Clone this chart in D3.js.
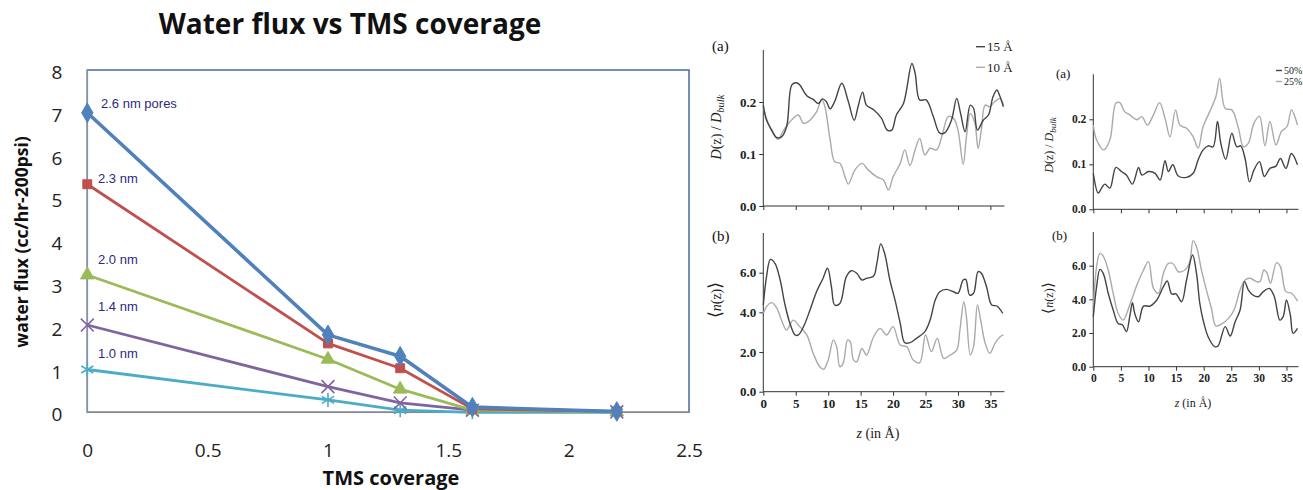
<!DOCTYPE html>
<html><head><meta charset="utf-8">
<script src="https://cdn.jsdelivr.net/npm/d3@7"></script>
<style>html,body{margin:0;padding:0;background:#fff;}svg{display:block;}</style>
</head><body>
<svg id="c" width="1303" height="490"></svg>
<script>
// ---------- Left chart data ----------
const tmsCoverage = [0, 1, 1.3, 1.6, 2.2];
const pore26 = [7.0, 1.81, 1.31, 0.12, 0.02];
const pore23 = [5.33, 1.61, 1.03, 0.08, 0.02];
const pore20 = [3.21, 1.24, 0.54, 0.05, 0.01];
const pore14 = [2.04, 0.60, 0.22, 0.05, 0.01];
const pore10 = [1.0, 0.29, 0.05, 0.0, 0.0];
const poreLabels = ["2.6 nm pores", "2.3 nm", "2.0 nm", "1.4 nm", "1.0 nm"];
const fluxTicks = [0,1,2,3,4,5,6,7,8];
const coverageTicks = [0,0.5,1,1.5,2,2.5];

// ---------- Right panels data (z in Å, value) ----------
const a1_15A = [[0,0.194],[0.5,0.165],[1.3,0.146],[2,0.132],[2.8,0.133],[3.6,0.153],[4.4,0.233],[5.1,0.237],[5.6,0.233],[6.7,0.212],[7.7,0.205],[8.5,0.197],[9.1,0.206],[9.7,0.201],[10.3,0.187],[11,0.201],[12.1,0.236],[13.1,0.201],[14,0.165],[14.6,0.191],[15.3,0.219],[15.9,0.194],[17,0.185],[18.2,0.169],[19.1,0.146],[19.8,0.146],[20.5,0.175],[21.6,0.197],[22.9,0.274],[23.4,0.255],[24.1,0.204],[25.1,0.204],[26.2,0.172],[27.2,0.140],[28,0.141],[29,0.165],[29.8,0.207],[30.4,0.178],[31.1,0.143],[31.9,0.194],[32.4,0.188],[33,0.146],[33.9,0.165],[34.7,0.175],[35.4,0.210],[36,0.223],[36.4,0.213],[37,0.191]];
const a1_10A = [[0,0.19],[0.5,0.168],[1.5,0.140],[2.3,0.128],[3,0.143],[4.1,0.162],[5.4,0.175],[6.2,0.159],[7.2,0.165],[8.2,0.181],[9,0.205],[9.5,0.191],[10.3,0.127],[11,0.085],[11.8,0.082],[12.6,0.056],[13.1,0.042],[14.1,0.069],[15.2,0.082],[16.2,0.069],[17.5,0.056],[18.5,0.050],[19.3,0.031],[20,0.056],[21.1,0.082],[21.8,0.108],[22.6,0.078],[23.4,0.108],[24.1,0.130],[24.9,0.098],[25.7,0.111],[26.7,0.108],[27.5,0.133],[28.5,0.172],[29.3,0.169],[30,0.146],[30.8,0.080],[31.3,0.133],[31.9,0.178],[32.6,0.159],[33.1,0.111],[33.6,0.146],[34.2,0.194],[34.9,0.191],[35.7,0.201],[36.5,0.207],[37,0.194]];
const b1_15A = [[0,4.37],[0.5,5.8],[1.1,6.67],[1.8,6.47],[2.6,5.63],[3.3,4.45],[4.1,3.45],[4.9,2.86],[5.4,2.86],[6.2,3.28],[7.2,4.12],[8.2,5.04],[9.2,5.71],[9.9,6.22],[10.5,5.29],[11,4.37],[11.8,4.45],[12.8,5.8],[13.6,6.1],[14.4,5.97],[15.2,5.63],[15.9,5.71],[17,5.83],[17.5,6.47],[18.1,7.45],[18.7,6.97],[19.5,5.63],[20.3,4.62],[21.1,3.45],[21.8,2.47],[22.6,2.47],[23.6,2.69],[24.9,3.03],[25.7,3.61],[26.5,4.62],[27.2,5.04],[28.2,5.16],[29.3,5.04],[30,4.96],[30.8,5.63],[31.2,5.66],[31.8,4.87],[32.4,4.96],[33.1,6.05],[33.6,5.97],[34.4,5.29],[35.2,4.37],[36,4.32],[36.9,3.95]];
const b1_10A = [[0,3.95],[0.5,4.29],[1.3,4.49],[2.1,4.2],[2.8,3.61],[3.6,3.11],[4.6,3.61],[5.6,3.28],[6.7,2.86],[7.7,1.93],[8.7,1.26],[9.3,1.13],[10,1.6],[10.8,2.61],[11.3,2.27],[11.8,1.26],[12.3,1.43],[13,2.61],[13.4,2.52],[13.9,1.6],[14.4,1.51],[15.2,2.18],[15.9,1.85],[17,2.77],[18,3.19],[19,2.86],[20,3.28],[21.1,2.35],[22.1,2.27],[23.1,1.6],[24.1,1.46],[25,2.86],[25.9,2.02],[26.8,2.69],[27.8,1.68],[28.8,1.85],[29.8,2.1],[30.3,3.11],[30.9,4.54],[31.3,3.78],[31.9,1.85],[32.4,2.27],[33,4.37],[33.5,3.61],[34.2,2.44],[34.9,1.93],[35.7,2.44],[36.5,2.77],[37,2.86]];
const a2_50 = [[0,0.08],[0.9,0.036],[1.5,0.047],[2.1,0.056],[3,0.047],[4.1,0.093],[5.1,0.084],[6,0.076],[7.1,0.056],[8.2,0.093],[8.8,0.076],[10,0.084],[11.2,0.08],[12.1,0.065],[13,0.108],[13.6,0.084],[14.4,0.099],[15.4,0.074],[16.9,0.071],[18.1,0.08],[19,0.11],[19.9,0.132],[20.8,0.141],[21.7,0.139],[22.5,0.195],[23.1,0.147],[24,0.111],[25.1,0.169],[26,0.139],[26.7,0.141],[27.5,0.113],[28.3,0.061],[29.1,0.087],[30.1,0.106],[31,0.073],[32,0.091],[33.1,0.096],[33.9,0.113],[34.9,0.091],[35.9,0.124],[37,0.099]];
const a2_25 = [[0,0.187],[0.6,0.154],[1.9,0.132],[3,0.154],[4.1,0.236],[4.8,0.237],[5.7,0.217],[6.6,0.21],[7.9,0.199],[8.8,0.206],[9.8,0.187],[10.9,0.21],[12,0.237],[13,0.202],[13.9,0.161],[14.9,0.221],[15.7,0.187],[16.9,0.18],[18.1,0.161],[19,0.136],[19.9,0.184],[21.1,0.217],[22.2,0.25],[22.9,0.291],[23.9,0.224],[25.1,0.221],[26.3,0.18],[27.2,0.139],[28.1,0.147],[29.1,0.191],[30.1,0.207],[31.1,0.141],[32,0.195],[33.1,0.143],[34.1,0.173],[35.1,0.184],[35.9,0.221],[36.4,0.21],[37,0.187]];
const b2_50 = [[0,2.97],[0.6,4.75],[1.2,5.78],[1.8,5.54],[2.7,4.36],[3.6,3.37],[4.5,2.57],[5.3,2.48],[6,2.08],[6.6,2.97],[7.1,3.8],[7.5,3.17],[8.2,2.67],[9.1,3.6],[10.3,3.6],[11.5,3.96],[12.7,4.75],[13.4,5.09],[14.2,4.32],[15,4.32],[16,3.86],[16.9,5.15],[18,6.63],[18.7,5.54],[19.3,3.76],[19.9,2.77],[20.8,1.78],[22,1.19],[22.6,1.23],[23.9,2.38],[24.8,1.82],[25.7,2.67],[26.6,3.37],[27.4,5.05],[28.1,4.55],[28.9,4.26],[29.9,4.16],[30.8,4.46],[31.9,4.65],[32.8,4.16],[33.8,2.77],[34.4,2.97],[35,3.96],[35.7,3.07],[36.2,1.98],[37,2.28]];
const b2_25 = [[0,3.37],[0.6,5.94],[1.2,6.73],[1.8,6.57],[2.7,5.74],[3.6,4.36],[4.5,3.17],[5.4,2.77],[6.6,3.66],[7.9,4.85],[9.1,5.74],[10,6.24],[10.9,4.65],[11.8,4.36],[12.7,5.54],[13.6,6.14],[14.5,6.1],[15.4,5.64],[16.6,5.74],[17.4,6.14],[18.1,7.49],[18.7,7.13],[19.6,5.74],[20.5,4.55],[21.4,3.47],[22.2,2.42],[23.2,2.53],[24.5,2.87],[25.5,3.37],[26.6,4.55],[27.5,5.15],[28.4,5.25],[29.6,5.05],[30.2,5.05],[30.9,5.74],[31.5,5.54],[32.1,4.95],[33.2,6.18],[33.9,5.94],[34.9,4.46],[35.9,4.36],[37,3.9]];
const zTicks = [0,5,10,15,20,25,30,35];
const dTicks = [0, 0.1, 0.2];
const nTicks = [0, 2, 4, 6];
const legendA1 = ["15 Å", "10 Å"];
const legendA2 = ["50%", "25%"];

const svg = d3.select("#c");
svg.append("rect").attr("width",1303).attr("height",490).attr("fill","#fff");

// ================= LEFT CHART =================
const L = svg.append("g");
const x = d3.scaleLinear().domain([0,2.5]).range([87.3,689]);
const y = d3.scaleLinear().domain([0,8]).range([412.3,70]);
const cal = "'Open Sans', 'Liberation Sans', sans-serif";

L.append("text").attr("x",350).attr("y",34).attr("text-anchor","middle")
 .attr("font-family",cal).attr("font-weight","bold").attr("font-size",28).attr("fill","#111")
 .text("Water flux vs TMS coverage");

// plot border
L.append("rect").attr("x",x(0)).attr("y",y(8)).attr("width",x(2.5)-x(0)).attr("height",y(0)-y(8))
 .attr("fill","none").attr("stroke","#4a6aa0").attr("stroke-width",1.5);
L.append("line").attr("x1",x(0)).attr("x2",x(2.5)).attr("y1",y(0)).attr("y2",y(0)).attr("stroke","#8a8a8a").attr("stroke-width",1.5);
L.append("line").attr("x1",x(0)).attr("x2",x(0)).attr("y1",y(0)).attr("y2",y(8)).attr("stroke","#8a93a6").attr("stroke-width",1.5);

// y ticks
const yAx = d3.axisLeft(y).tickValues(fluxTicks).tickSize(0).tickPadding(0).tickFormat(d3.format("d"));
const gy = L.append("g").attr("transform",`translate(${x(0)-25},0)`).call(yAx);
gy.select(".domain").remove();
gy.selectAll("text").attr("font-family",cal).attr("font-size",19).attr("fill","#222").attr("dy","0.45em");
// x ticks
const xAx = d3.axisBottom(x).tickValues(coverageTicks).tickSize(0).tickPadding(0).tickFormat(d => d);
const gx = L.append("g").attr("transform",`translate(0,${y(0)+45})`).call(xAx);
gx.select(".domain").remove();
gx.selectAll("text").attr("font-family",cal).attr("font-size",19).attr("fill","#222").attr("dy","0");

L.append("text").attr("x",391).attr("y",485).attr("text-anchor","middle")
 .attr("font-family",cal).attr("font-weight","bold").attr("font-size",20).attr("fill","#111").text("TMS coverage");
L.append("text").attr("transform","translate(28,242) rotate(-90)").attr("text-anchor","middle")
 .attr("font-family",cal).attr("font-weight","bold").attr("font-size",17.5).attr("fill","#111").text("water flux (cc/hr-200psi)");

const seriesL = [
  {v:pore26, c:"#4f81bd", w:3.6, sym:d3.symbolDiamond, size:110, fillSym:true},
  {v:pore23, c:"#c0504d", w:2.8, sym:d3.symbolSquare, size:80, fillSym:true},
  {v:pore20, c:"#9bbb59", w:2.8, sym:d3.symbolTriangle, size:80, fillSym:true},
  {v:pore14, c:"#8064a2", w:2.8, sym:d3.symbolX, size:110, fillSym:false},
  {v:pore10, c:"#4bacc6", w:2.8, sym:d3.symbolAsterisk, size:140, fillSym:false},
];
const lineL = d3.line().x((d,i)=>x(tmsCoverage[i])).y(d=>y(d));
seriesL.slice().reverse().forEach(s => {
  L.append("path").attr("d",lineL(s.v)).attr("fill","none").attr("stroke",s.c).attr("stroke-width",s.w).attr("stroke-linejoin","round");
});
seriesL.slice().reverse().forEach(s => {
  const sym = d3.symbol().type(s.sym).size(s.size);
  s.v.forEach((d,i)=>{
    const p = L.append("path").attr("d",sym()).attr("transform",`translate(${x(tmsCoverage[i])},${y(d)})`);
    if (s.fillSym) p.attr("fill",s.c).attr("stroke",s.c).attr("stroke-width",1);
    else p.attr("fill","none").attr("stroke",s.c).attr("stroke-width",1.6);
  });
});
const labelY = [103.3, 178.3, 259.3, 306.7, 353.3];
poreLabels.forEach((t,i)=>{
  L.append("text").attr("x",i===0?101:98).attr("y",labelY[i]).attr("dy","0.35em")
   .attr("font-family","'Liberation Sans', Arial, sans-serif").attr("font-size",13).attr("fill","#2b2b80").text(t);
});

// ================= RIGHT PANELS =================
const serif = "'Liberation Serif', 'Times New Roman', serif";
const dark = "#444", light = "#aaa";

function panel(cfg){
  const g = svg.append("g");
  const xs = d3.scaleLinear().domain([0,37]).range([cfg.x0, cfg.x1]);
  const ys = d3.scaleLinear().domain([0,cfg.ymax]).range([cfg.yb, cfg.yt]);
  const ax = d3.axisBottom(xs).tickValues(zTicks).tickSize(4).tickPadding(3);
  if (!cfg.xlabels) ax.tickFormat("");
  const gx = g.append("g").attr("transform",`translate(0,${cfg.yb})`).call(ax);
  gx.select(".domain").attr("d",`M${cfg.x0},0H${cfg.x1+1}`).attr("stroke","#333");
  gx.selectAll("line").attr("stroke","#333");
  gx.selectAll("text").attr("font-family",serif).attr("font-weight","bold").attr("font-size",cfg.fs).attr("fill","#222");
  const ay = d3.axisLeft(ys).tickValues(cfg.yticks).tickSize(4).tickPadding(3).tickFormat(d3.format(cfg.fmt));
  const gy = g.append("g").attr("transform",`translate(${cfg.x0},0)`).call(ay);
  gy.select(".domain").attr("d",`M0,${cfg.yb}V${cfg.yt}`).attr("stroke","#333");
  gy.selectAll("line").attr("stroke","#333");
  gy.selectAll("text").attr("font-family",serif).attr("font-weight","bold").attr("font-size",cfg.fs).attr("fill","#222");
  const ln = d3.line().x(d=>xs(d[0])).y(d=>ys(d[1])).curve(d3.curveCatmullRom.alpha(0.5));
  g.append("path").attr("d",ln(cfg.lightData)).attr("fill","none").attr("stroke",light).attr("stroke-width",1.4);
  g.append("path").attr("d",ln(cfg.darkData)).attr("fill","none").attr("stroke",dark).attr("stroke-width",1.4);
  g.append("text").attr("x",cfg.lx).attr("y",cfg.ly).attr("dy","0.35em").attr("font-family",serif)
   .attr("font-size",cfg.lfs).attr("fill","#111").text(cfg.letter);
  const yt = g.append("text").attr("transform",`translate(${cfg.tx},${cfg.ty}) rotate(-90)`).attr("text-anchor","middle")
   .attr("font-family",serif).attr("font-size",cfg.tfs).attr("fill","#222");
  if (cfg.kind === "D") {
    yt.append("tspan").attr("font-style","italic").text("D");
    yt.append("tspan").text("(z) / ");
    yt.append("tspan").attr("font-style","italic").text("D");
    yt.append("tspan").attr("font-style","italic").attr("font-size",cfg.tfs*0.75).attr("dy",3).text("bulk");
  } else {
    yt.append("tspan").attr("font-size",cfg.tfs*1.25).text("⟨");
    yt.append("tspan").attr("font-style","italic").text("n");
    yt.append("tspan").text("(z)");
    yt.append("tspan").attr("font-size",cfg.tfs*1.25).text("⟩");
  }
  if (cfg.xtitle) {
    const xt = g.append("text").attr("x",cfg.xtx).attr("y",cfg.xty).attr("dy","0.35em").attr("text-anchor","middle")
      .attr("font-family",serif).attr("font-size",cfg.tfs).attr("fill","#222");
    xt.append("tspan").attr("font-style","italic").text("z");
    xt.append("tspan").text(" (in Å)");
  }
  if (cfg.legend) {
    cfg.legend.forEach((t,i)=>{
      const ly = cfg.legY[i];
      g.append("line").attr("x1",cfg.legX).attr("x2",cfg.legX+cfg.legW).attr("y1",ly).attr("y2",ly)
       .attr("stroke", i===0?dark:light).attr("stroke-width",1.4);
      g.append("text").attr("x",cfg.legX+cfg.legW+2).attr("y",ly).attr("dy","0.35em").attr("font-family",serif)
       .attr("font-size",cfg.legFs).attr("fill","#222").text(t);
    });
  }
}

panel({x0:763.3, x1:1003.4, yb:206, yt:50, ymax:0.3, yticks:dTicks, fmt:".1f", xlabels:false, fs:13,
  darkData:a1_15A, lightData:a1_10A, letter:"(a)", lx:712, ly:46, lfs:15, kind:"D", tx:721, ty:127, tfs:14,
  legend:legendA1, legY:[46.7,67.3], legX:976, legW:9, legFs:13});
panel({x0:763.3, x1:1003.4, yb:391.7, yt:233, ymax:8, yticks:nTicks, fmt:".1f", xlabels:true, fs:13,
  darkData:b1_15A, lightData:b1_10A, letter:"(b)", lx:712, ly:236, lfs:15, kind:"n", tx:721, ty:300, tfs:14,
  xtitle:true, xtx:878, xty:433});
panel({x0:1093.3, x1:1297.5, yb:209.3, yt:74.3, ymax:0.3, yticks:dTicks, fmt:".1f", xlabels:false, fs:11.5,
  darkData:a2_50, lightData:a2_25, letter:"(a)", lx:1056, ly:73, lfs:13, kind:"D", tx:1053, ty:145, tfs:12,
  legend:legendA2, legY:[70.5,81.5], legX:1276, legW:6, legFs:10});
panel({x0:1093.3, x1:1297.5, yb:366.7, yt:232, ymax:8, yticks:nTicks, fmt:".1f", xlabels:true, fs:11.5,
  darkData:b2_50, lightData:b2_25, letter:"(b)", lx:1052, ly:235, lfs:13, kind:"n", tx:1053, ty:298, tfs:12,
  xtitle:true, xtx:1193, xty:403});
</script>
</body></html>
